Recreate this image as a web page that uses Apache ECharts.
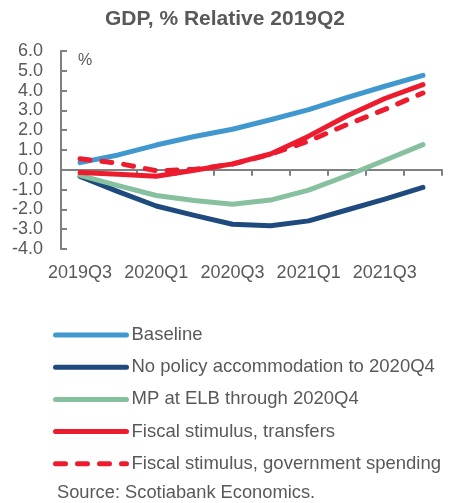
<!DOCTYPE html>
<html>
<head>
<meta charset="utf-8">
<style>
  html, body { margin: 0; padding: 0; background: #fff; }
  #chart { width: 450px; height: 503px; }
</style>
<script src="https://cdn.jsdelivr.net/npm/echarts@6/dist/echarts.min.js"></script>
</head>
<body>
<div id="chart"></div>
<script>
// Quarters on the horizontal axis
var quarters = ['2019Q3', '2019Q4', '2020Q1', '2020Q2', '2020Q3', '2020Q4', '2021Q1', '2021Q2', '2021Q3', '2021Q4'];

// GDP, % relative to 2019Q2, by scenario
var baseline       = [0.36, 0.75, 1.25, 1.68, 2.05, 2.53, 3.04, 3.65, 4.22, 4.77];
var noPolicy       = [-0.33, -1.10, -1.83, -2.30, -2.75, -2.83, -2.58, -2.03, -1.48, -0.89];
var mpAtElb        = [-0.28, -0.80, -1.30, -1.55, -1.74, -1.53, -1.03, -0.30, 0.48, 1.27];
var fiscalTransfer = [-0.14, -0.23, -0.33, -0.02, 0.30, 0.80, 1.70, 2.72, 3.60, 4.30];
var fiscalSpending = [0.56, 0.33, -0.05, 0.02, 0.28, 0.78, 1.45, 2.28, 3.05, 3.88];

// Value axis ticks
var yMin = -4, yMax = 6, yStep = 1;

var seriesNames = [
  'Baseline',
  'No policy accommodation to 2020Q4',
  'MP at ELB through 2020Q4',
  'Fiscal stimulus, transfers',
  'Fiscal stimulus, government spending'
];

var FONT = '"Liberation Sans", Arial, sans-serif';
var TEXT = '#595959';
var AXIS = '#808080';

function lineSeries(name, data, color, dashed) {
  return {
    name: name,
    type: 'line',
    xAxisIndex: 0,
    yAxisIndex: 0,
    data: data,
    symbol: 'none',
    smooth: false,
    animation: false,
    lineStyle: {
      color: color,
      width: 5,
      cap: 'round',
      join: 'round',
      type: dashed ? [10, 12] : 'solid'
    },
    itemStyle: { color: color }
  };
}

var chart = echarts.init(document.getElementById('chart'), null, { renderer: 'canvas' });

chart.setOption({
  animation: false,
  backgroundColor: '#ffffff',
  title: {
    text: 'GDP, % Relative 2019Q2',
    left: 'center',
    top: 4,
    textStyle: { fontFamily: FONT, fontSize: 21, fontWeight: 'bold', color: TEXT }
  },
  grid: { left: 61, right: 8, top: 51, bottom: 254, containLabel: false },
  xAxis: [
    {
      // labels along the bottom of the plot
      type: 'category',
      data: quarters,
      position: 'bottom',
      boundaryGap: true,
      axisLine: { show: false, onZero: false },
      axisTick: { show: false },
      axisLabel: {
        interval: 1,
        margin: 15,
        fontFamily: FONT,
        fontSize: 18,
        color: TEXT
      },
      splitLine: { show: false }
    },
    {
      // axis line and ticks through zero
      type: 'category',
      data: quarters,
      position: 'bottom',
      boundaryGap: true,
      axisLine: { show: true, onZero: true, onZeroAxisIndex: 0, lineStyle: { color: AXIS, width: 2 } },
      axisTick: { show: true, interval: 0, inside: false, length: 6, lineStyle: { color: AXIS, width: 2 } },
      axisLabel: { show: false },
      splitLine: { show: false }
    }
  ],
  yAxis: {
    type: 'value',
    min: yMin,
    max: yMax,
    interval: yStep,
    axisLine: { show: true, lineStyle: { color: AXIS, width: 2 } },
    axisTick: { show: true, inside: true, length: 6, lineStyle: { color: AXIS, width: 2 } },
    axisLabel: {
      margin: 18,
      fontFamily: FONT,
      fontSize: 18,
      color: TEXT,
      formatter: function (v) { return v.toFixed(1); }
    },
    splitLine: { show: false }
  },
  legend: {
    orient: 'vertical',
    left: 53,
    top: 325,
    padding: 0,
    itemWidth: 71,
    itemHeight: 6,
    itemGap: 12.2,
    selectedMode: false,
    data: seriesNames,
    itemStyle: { opacity: 0 },
    lineStyle: { width: 5, cap: 'round' },
    textStyle: { fontFamily: FONT, fontSize: 18.5, color: TEXT, lineHeight: 20 }
  },
  graphic: [
    {
      type: 'text',
      left: 78,
      top: 53,
      style: { text: '%', fontFamily: FONT, fontSize: 16, fill: TEXT }
    },
    {
      type: 'text',
      left: 57,
      top: 484,
      style: { text: 'Source: Scotiabank Economics.', fontFamily: FONT, fontSize: 18.3, fill: TEXT }
    }
  ],
  series: [
    lineSeries(seriesNames[0], baseline, '#4198cf', false),
    lineSeries(seriesNames[1], noPolicy, '#1f4a7e', false),
    lineSeries(seriesNames[2], mpAtElb, '#86c09e', false),
    lineSeries(seriesNames[3], fiscalTransfer, '#ec1c2e', false),
    lineSeries(seriesNames[4], fiscalSpending, '#ec1c2e', true)
  ]
});
</script>
</body>
</html>
